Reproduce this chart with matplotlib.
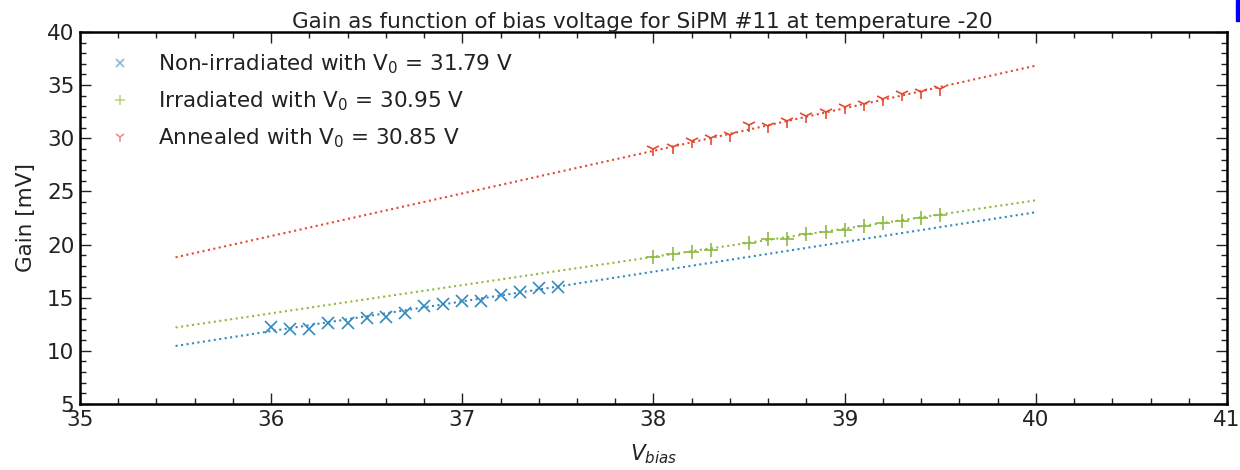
import numpy as np
import matplotlib.pyplot as plt
from matplotlib.patches import Rectangle
from matplotlib.ticker import MultipleLocator

# measured points
v_non = [36.0, 36.1, 36.2, 36.3, 36.4, 36.5, 36.6, 36.7, 36.8, 36.9,
         37.0, 37.1, 37.2, 37.3, 37.4, 37.5]
gain_non = [12.2, 12.1, 12.1, 12.6, 12.6, 13.1, 13.2, 13.6, 14.2, 14.4,
            14.7, 14.7, 15.3, 15.5, 15.9, 16.0]

v_irr = [38.0, 38.1, 38.2, 38.3, 38.5, 38.6, 38.7, 38.8, 38.9, 39.0,
         39.1, 39.2, 39.3, 39.4, 39.5]
gain_irr = [18.8, 19.1, 19.3, 19.5, 20.1, 20.5, 20.5, 21.0, 21.2, 21.4,
            21.75, 22.0, 22.2, 22.5, 22.8]

v_ann = [38.0, 38.1, 38.2, 38.3, 38.4, 38.5, 38.6, 38.7, 38.8, 38.9,
         39.0, 39.1, 39.2, 39.3, 39.4, 39.5]
gain_ann = [28.95, 29.15, 29.75, 30.05, 30.3, 31.25, 31.15, 31.6, 32.1, 32.45,
            32.9, 33.2, 33.65, 34.2, 34.35, 34.65]

# linear fits (end points)
v_fit = [35.5, 40.0]
fit_non = [10.46, 23.04]
fit_irr = [12.2, 24.16]
fit_ann = [18.8, 36.83]

labels = ['Non-irradiated with V$_0$ = 31.79 V',
          'Irradiated with V$_0$ = 30.95 V',
          'Annealed with V$_0$ = 30.85 V']
colors = ['#348ABD', '#8EBA42', '#E24A33']

plt.rcParams['font.family'] = ['DejaVu Sans']
plt.rcParams['mathtext.default'] = 'regular'
fig = plt.figure(figsize=(12.4, 4.7), dpi=100)
ax = fig.add_axes([0.0645, 0.1404, 0.9250, 0.7916])

ax.plot(v_fit, fit_non, ':', color=colors[0], lw=1.5)
ax.plot(v_fit, fit_irr, ':', color=colors[1], lw=1.5)
ax.plot(v_fit, fit_ann, ':', color=colors[2], lw=1.5)

ax.plot(v_non, gain_non, 'x', color=colors[0], ms=8, mew=1.2, ls='none', label=labels[0])
ax.plot(v_irr, gain_irr, '+', color=colors[1], ms=10, mew=1.2, ls='none', label=labels[1])
ax.plot(v_ann, gain_ann, '1', color=colors[2], ms=10, mew=1.2, ls='none', label=labels[2])

ax.set_xlim(35, 41)
ax.set_ylim(5, 40)
ax.xaxis.set_major_locator(MultipleLocator(1))
ax.xaxis.set_minor_locator(MultipleLocator(0.2))
ax.yaxis.set_major_locator(MultipleLocator(5))
ax.yaxis.set_minor_locator(MultipleLocator(1))
ax.tick_params(which='both', direction='in', top=True, right=True, labelsize=15.5,
               colors='#222222')
ax.tick_params(which='major', length=8, width=1, pad=4)
ax.tick_params(which='minor', length=4, width=1)
for s in ax.spines.values():
    s.set_linewidth(1.8)

ax.set_title('Gain as function of bias voltage for SiPM #11 at temperature -20',
             fontsize=15.5, pad=3, color='#222222', x=0.49)
ax.set_ylabel('Gain [mV]', fontsize=15.5, labelpad=8, color='#222222')
ax.set_xlabel('$\\it{V}_{\\it{bias}}$', fontsize=15.5, labelpad=9, color='#222222')

leg = ax.legend(loc='upper left', frameon=False, fontsize=15.5, markerscale=0.75,
                numpoints=1, handlelength=1.5, handletextpad=1.0, borderaxespad=0.3,
                labelspacing=0.62, bbox_to_anchor=(0.008, 0.985))
for t in leg.get_texts():
    t.set_color('#222222')
for h in leg.legend_handles:
    h.set_alpha(0.6)

fig.patches.append(Rectangle((0.9968, 0.956), 0.0032, 0.044, transform=fig.transFigure,
                             color='#0000ff', zorder=10))

fig.savefig('out.png', dpi=100)
